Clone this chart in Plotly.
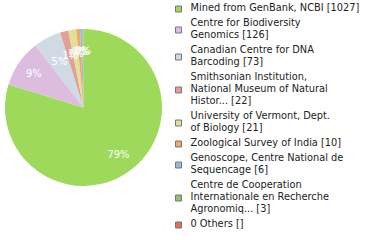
import plotly.graph_objects as go

labels = [
    "Mined from GenBank, NCBI [1027]",
    "Centre for Biodiversity<br>Genomics [126]",
    "Canadian Centre for DNA<br>Barcoding [73]",
    "Smithsonian Institution,<br>National Museum of Natural<br>Histor... [22]",
    "University of Vermont, Dept.<br>of Biology [21]",
    "Zoological Survey of India [10]",
    "Genoscope, Centre National de<br>Sequencage [6]",
    "Centre de Cooperation<br>Internationale en Recherche<br>Agronomiq... [3]",
    "0 Others []",
]
values = [1027, 126, 73, 22, 21, 10, 6, 3, 0]
pct_text = ["79%", "9%", "5%", "1%", "1%", "0%", "0%", "0%", ""]
colors = ["#9ed95b", "#dcbddf", "#cfdae5", "#e0a096", "#e0e09c",
          "#f0a868", "#98b6de", "#98c070", "#e07050"]

W, H = 380, 240
CX, CY, R = 83.5, 107.5, 78.5


def dom(r):
    return dict(x=[(CX - r) / W, (CX + r) / W],
                y=[1 - (CY + r) / H, 1 - (CY - r) / H])


big = [t if v >= 100 else "" for t, v in zip(pct_text, values)]
mid = [t if 50 <= v < 100 else "" for t, v in zip(pct_text, values)]
small = [t if v < 50 else "" for t, v in zip(pct_text, values)]
clear = ["rgba(0,0,0,0)"] * len(values)
common = dict(labels=labels, values=values, sort=False,
              direction="clockwise", rotation=0,
              showlegend=False, hoverinfo="none")
tfont = dict(family="DejaVu Sans", size=10, color="white")

fig = go.Figure()
# visible pie (no text)
fig.add_trace(go.Pie(
    textinfo="none", marker=dict(colors=colors, line=dict(width=0)),
    domain=dom(R), **common,
))
# transparent overlays carrying the percentage labels at ~3/4 radius
for txts, r, hole in ((big, R, 0.5), (mid, 61, 0), (small, 57, 0)):
    fig.add_trace(go.Pie(
        text=txts, textinfo="text", hole=hole,
        marker=dict(colors=clear, line=dict(width=0)),
        textposition="inside", insidetextorientation="horizontal",
        textfont=tfont, domain=dom(r), **common,
    ))

# legend built as a list: one marker per item, one text per line
LINE_H, GAP, FIRST = 12, 3, 9
sq_y, txt_y, txt = [], [], []
y = FIRST
for lab in labels:
    lines = lab.split("<br>")
    ys = [y + k * LINE_H for k in range(len(lines))]
    sq_y.append(sum(ys) / len(ys))
    txt_y.extend(ys)
    txt.extend(lines)
    y = ys[-1] + LINE_H + GAP

fig.add_trace(go.Scatter(
    x=[178.5] * len(labels), y=sq_y, mode="markers",
    marker=dict(symbol="square", size=6, color=colors,
                line=dict(color="#777777", width=1)),
    showlegend=False, hoverinfo="none",
))
fig.add_trace(go.Scatter(
    x=[190.5] * len(txt), y=txt_y, mode="text", text=txt,
    textposition="middle right",
    textfont=dict(family="DejaVu Sans", size=9.8, color="#222222"),
    marker=dict(size=0),
    showlegend=False, hoverinfo="none",
))

fig.update_layout(
    width=W, height=H,
    margin=dict(l=0, r=0, t=0, b=0),
    paper_bgcolor="white", plot_bgcolor="rgba(0,0,0,0)",
    xaxis=dict(visible=False, range=[0, W], domain=[0, 1], fixedrange=True),
    yaxis=dict(visible=False, range=[H, 0], domain=[0, 1], fixedrange=True),
    uniformtext=dict(minsize=10, mode="show"),
    showlegend=False,
)
fig.write_html("out.html")
